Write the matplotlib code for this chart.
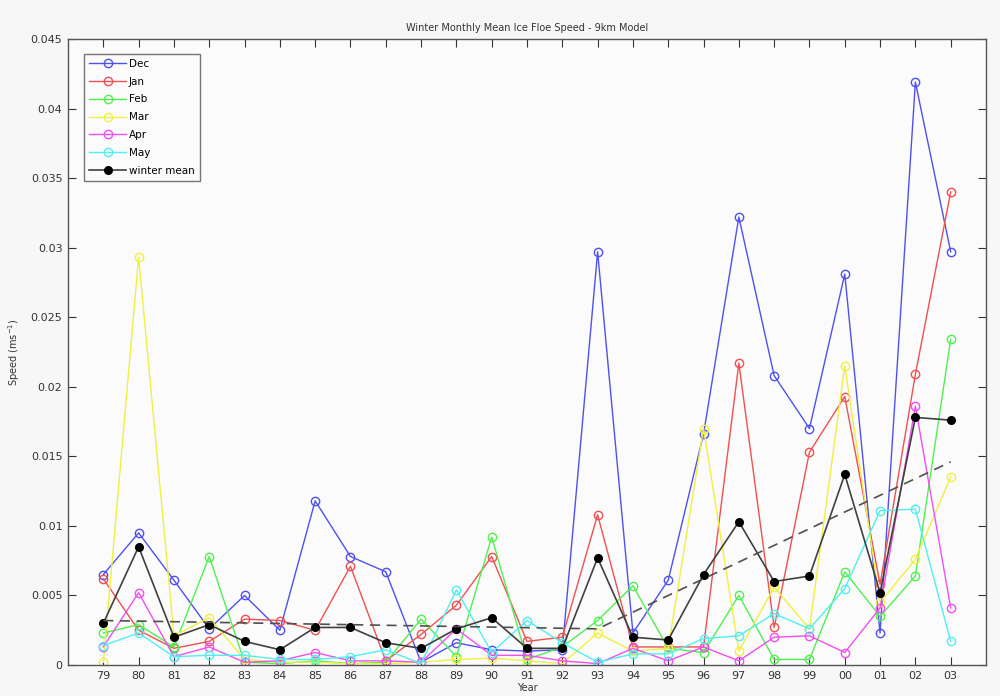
import numpy as np
import matplotlib
matplotlib.use('Agg')
import matplotlib.pyplot as plt

years = ['79', '80', '81', '82', '83', '84', '85', '86', '87', '88', '89', '90', '91',
         '92', '93', '94', '95', '96', '97', '98', '99', '00', '01', '02', '03']

dec = [0.0065, 0.0095, 0.0061, 0.0026, 0.0050, 0.0025, 0.0118, 0.0078, 0.0067, 0.0002,
       0.0016, 0.0011, 0.0010, 0.0011, 0.0297, 0.0023, 0.0061, 0.0166, 0.0322, 0.0208,
       0.0170, 0.0281, 0.0023, 0.0419, 0.0297]
jan = [0.0062, 0.0025, 0.0012, 0.0017, 0.0033, 0.0032, 0.0025, 0.0071, 0.0003, 0.0022,
       0.0043, 0.0078, 0.0017, 0.0020, 0.0108, 0.0013, 0.0013, 0.0013, 0.0217, 0.0027,
       0.0153, 0.0193, 0.0058, 0.0209, 0.0340]
feb = [0.0023, 0.0029, 0.0013, 0.0078, 0.0002, 0.0001, 0.0003, 0.0001, 0.0002, 0.0033,
       0.0006, 0.0092, 0.0004, 0.0013, 0.0032, 0.0057, 0.0012, 0.0009, 0.0050, 0.0004,
       0.0004, 0.0067, 0.0035, 0.0064, 0.0234]
mar = [0.0002, 0.0293, 0.0021, 0.0034, 0.0004, 0.0002, 0.0002, 0.0001, 0.0001, 0.0002,
       0.0004, 0.0005, 0.0003, 0.0001, 0.0023, 0.0010, 0.0012, 0.0170, 0.0010, 0.0056,
       0.0026, 0.0215, 0.0045, 0.0076, 0.0135]
apr = [0.0013, 0.0052, 0.0006, 0.0013, 0.0002, 0.0003, 0.0009, 0.0003, 0.0003, 0.0002,
       0.0026, 0.0007, 0.0007, 0.0003, 0.0001, 0.0012, 0.0003, 0.0013, 0.0003, 0.0020,
       0.0021, 0.0009, 0.0041, 0.0186, 0.0041]
may = [0.0014, 0.0023, 0.0006, 0.0007, 0.0007, 0.0004, 0.0004, 0.0006, 0.0011, 0.0001,
       0.0054, 0.0009, 0.0032, 0.0016, 0.0002, 0.0008, 0.0008, 0.0019, 0.0021, 0.0037,
       0.0026, 0.0055, 0.0111, 0.0112, 0.0017]
winter_mean = [0.0030, 0.0085, 0.0020, 0.0029, 0.0017, 0.0011, 0.0027, 0.0027, 0.0016, 0.0012,
               0.0026, 0.0034, 0.0012, 0.0012, 0.0077, 0.0020, 0.0018, 0.0065, 0.0103, 0.0060,
               0.0064, 0.0137, 0.0052, 0.0178, 0.0176]

# two-piece trend of the winter mean (break at 93)
trend_years = ['79', '93', '03']
trend_vals = [0.0032, 0.0026, 0.0146]

x = np.arange(len(years))
trend_x = [years.index(y) for y in trend_years]

fig = plt.figure(figsize=(10, 6.96), dpi=100, facecolor='#f7f7f7')
ax = fig.add_axes([0.068, 0.0445, 0.918, 0.8995])
ax.set_facecolor('#fbfbfb')

series = [('Dec', dec, '#5050f0'), ('Jan', jan, '#f05050'), ('Feb', feb, '#50f050'),
          ('Mar', mar, '#f0f040'), ('Apr', apr, '#f050f0'), ('May', may, '#50f0f0')]
for name, vals, c in series:
    ax.plot(x, vals, '-o', color=c, mfc='none', mec=c, ms=6, lw=1.0, mew=1.0, label=name)
ax.plot(x, winter_mean, '-o', color='#404040', mfc='black', mec='black', ms=5.5, lw=1.2,
        label='winter mean')
ax.plot(trend_x, trend_vals, '--', color='#505050', lw=1.2, dashes=(6, 4))

ax.set_xlim(-1, len(years))
ax.set_ylim(0, 0.045)
ax.set_xticks(x)
ax.set_xticklabels(years)
ax.set_yticks(np.arange(0, 0.0451, 0.005))
ax.set_yticklabels(['0', '0.005', '0.01', '0.015', '0.02', '0.025', '0.03', '0.035', '0.04', '0.045'])
ax.tick_params(direction='in', length=6, labelsize=8, colors='#333333',
               top=True, right=True, pad=4)
for s in ax.spines.values():
    s.set_color('#555555')
    s.set_linewidth(1.0)

ax.set_title('Winter Monthly Mean Ice Floe Speed - 9km Model', fontsize=7, color='#333333', pad=6)
ax.set_xlabel('Year', fontsize=7, color='#333333', labelpad=2)
ax.set_ylabel('Speed (ms$^{-1}$)', fontsize=7, color='#333333', labelpad=6)

leg = ax.legend(loc='upper left', fontsize=7.5, frameon=True, fancybox=False,
                edgecolor='#555555', handlelength=3.5, borderpad=0.5, labelspacing=0.75,
                handletextpad=0.3, bbox_to_anchor=(0.012, 0.985))
leg.get_frame().set_linewidth(1.0)
leg.get_frame().set_facecolor('#fbfbfb')

fig.savefig('out.png', dpi=100, facecolor=fig.get_facecolor())
